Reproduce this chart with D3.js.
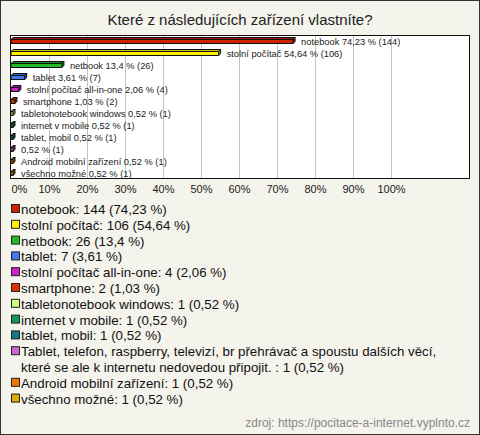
<!DOCTYPE html>
<html><head><meta charset="utf-8">
<script src="https://cdn.jsdelivr.net/npm/d3@7"></script>
<style>
html,body{margin:0;padding:0;background:#f4f3ec;}
svg{display:block;font-family:"Liberation Sans",Arial,sans-serif;}
</style></head>
<body>
<svg id="c" width="480" height="435"></svg>
<script>
const title = "Které z následujících zařízení vlastníte?";
const categories = [
  "notebook",
  "stolní počítač",
  "netbook",
  "tablet",
  "stolní počítač all-in-one",
  "smartphone",
  "tabletonotebook windows",
  "internet v mobile",
  "tablet, mobil",
  "Tablet, telefon, raspberry, televizí, br přehrávač a spoustu dalších věcí, které se ale k internetu nedovedou připojit.",
  "Android mobilní zařízení",
  "všechno možné"
];
const barNames = [
  "notebook", "stolní počítač", "netbook", "tablet", "stolní počítač all-in-one",
  "smartphone", "tabletonotebook windows", "internet v mobile", "tablet, mobil",
  "", "Android mobilní zařízení", "všechno možné"
];
const legendLines = [
  ["notebook: 144 (74,23 %)"],
  ["stolní počítač: 106 (54,64 %)"],
  ["netbook: 26 (13,4 %)"],
  ["tablet: 7 (3,61 %)"],
  ["stolní počítač all-in-one: 4 (2,06 %)"],
  ["smartphone: 2 (1,03 %)"],
  ["tabletonotebook windows: 1 (0,52 %)"],
  ["internet v mobile: 1 (0,52 %)"],
  ["tablet, mobil: 1 (0,52 %)"],
  ["Tablet, telefon, raspberry, televizí, br přehrávač a spoustu dalších věcí,", "které se ale k internetu nedovedou připojit. : 1 (0,52 %)"],
  ["Android mobilní zařízení: 1 (0,52 %)"],
  ["všechno možné: 1 (0,52 %)"]
];
const counts = [144, 106, 26, 7, 4, 2, 1, 1, 1, 1, 1, 1];
const percents = [74.23, 54.64, 13.4, 3.61, 2.06, 1.03, 0.52, 0.52, 0.52, 0.52, 0.52, 0.52];
const colors = ["#cc2200", "#ffee00", "#22bb22", "#4477ee", "#cc22cc", "#dd3300",
  "#ccff77", "#119955", "#117788", "#cc66cc", "#ee7700", "#ddaa00"];
const ticks = [0, 10, 20, 30, 40, 50, 60, 70, 80, 90, 100];
const source = "zdroj: https://pocitace-a-internet.vyplnto.cz";

const svg = d3.select("#c");
const W = 480, H = 435;
const fmt = v => String(v).replace(".", ",");

svg.append("rect").attr("x", 0.5).attr("y", 0.5).attr("width", W - 1).attr("height", H - 1)
  .attr("fill", "#f4f3ec").attr("stroke", "#333");

svg.append("text").attr("x", 240).attr("y", 25).attr("text-anchor", "middle")
  .attr("font-size", 15).attr("fill", "#222").text(title);

const plot = {l: 10, r: 470, t: 35, b: 179};
const x = d3.scaleLinear().domain([0, 100]).range([11, 391]);
const y = d3.scaleBand().domain(d3.range(categories.length)).range([plot.t, plot.b]);

svg.append("rect").attr("x", plot.l + 0.5).attr("y", plot.t + 0.5)
  .attr("width", plot.r - plot.l - 1).attr("height", plot.b - plot.t - 1)
  .attr("fill", "#fff").attr("stroke", "none");

// gridlines
svg.append("g").selectAll("line").data(ticks.filter(t => t > 0)).join("line")
  .attr("x1", d => Math.round(x(d)) + 0.5).attr("x2", d => Math.round(x(d)) + 0.5)
  .attr("y1", plot.t).attr("y2", plot.b).attr("stroke", "#c4c4c4");

svg.append("rect").attr("x", plot.l + 0.5).attr("y", plot.t + 0.5)
  .attr("width", plot.r - plot.l - 1).attr("height", plot.b - plot.t - 1)
  .attr("fill", "none").attr("stroke", "#111");

// axis labels
const ax = svg.append("g").attr("transform", `translate(0,${plot.b})`)
  .call(d3.axisBottom(x).tickValues(ticks).tickFormat(d => d + "%").tickSize(0).tickPadding(4));
ax.select(".domain").remove();
ax.selectAll("text").attr("font-size", 11).attr("fill", "#222")
  .attr("font-family", "Liberation Sans, Arial, sans-serif")
  .attr("dy", "0.95em");
ax.selectAll(".tick").filter(d => d === 0).select("text").attr("text-anchor", "start").attr("x", 0);

// 3D bars
const d = 2;
const bars = svg.append("g");
categories.forEach((c, i) => {
  const cy = y(i) + y.bandwidth() / 2;
  const x0 = x(0), x1 = Math.max(x(percents[i]), x0 + 2);
  const y0 = cy - 1.5, y1 = cy + 2.5;
  const col = d3.color(colors[i]);
  const g = bars.append("g").attr("stroke", "#111").attr("stroke-width", 1).attr("stroke-linejoin", "round");
  g.append("path").attr("d", `M${x0},${y0}L${x0 + d},${y0 - d}L${x1 + d},${y0 - d}L${x1},${y0}Z`)
    .attr("fill", col.darker(0.6));
  g.append("path").attr("d", `M${x1},${y0}L${x1 + d},${y0 - d}L${x1 + d},${y1 - d}L${x1},${y1}Z`)
    .attr("fill", col.darker(1));
  g.append("rect").attr("x", x0).attr("y", y0).attr("width", x1 - x0).attr("height", y1 - y0)
    .attr("fill", col);
  const lbl = (barNames[i] ? barNames[i] + " " : "") + fmt(percents[i]) + " % (" + counts[i] + ")";
  bars.append("text").attr("x", x1 + d + 6).attr("y", cy + 3.5)
    .attr("font-size", 9.3).attr("fill", "#222").text(lbl);
});

// legend
const lg = svg.append("g");
let ly = 214;
legendLines.forEach((lines, i) => {
  lg.append("rect").attr("x", 11.5).attr("y", ly - 9.5).attr("width", 8).attr("height", 8)
    .attr("fill", colors[i]).attr("stroke", "#222");
  lines.forEach((t, k) => {
    lg.append("text").attr("x", 21).attr("y", ly).attr("font-size", 13.3).attr("fill", "#111").text(t);
    ly += 15.8;
  });
});

svg.append("text").attr("x", 470).attr("y", 427).attr("text-anchor", "end")
  .attr("font-size", 12).attr("fill", "#888").text(source);
</script>
</body></html>
